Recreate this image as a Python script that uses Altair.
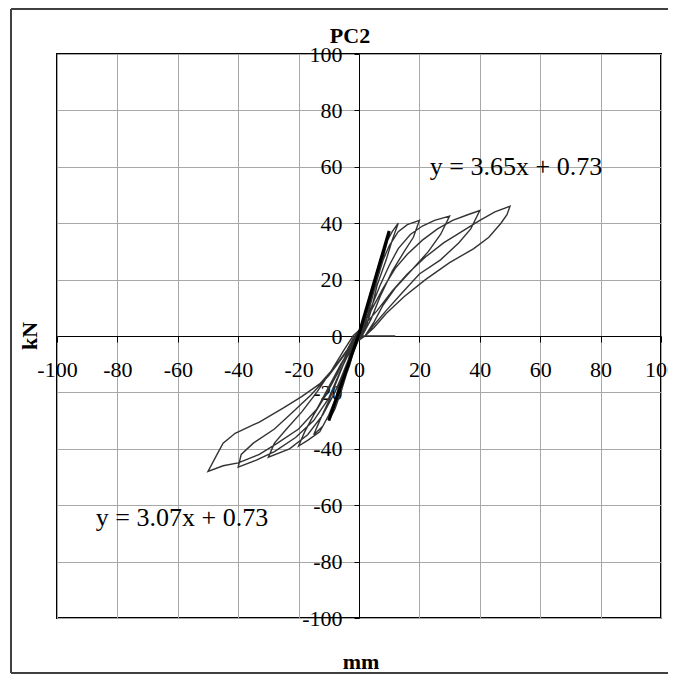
import altair as alt
import pandas as pd

# ---------------- data ----------------
tick_values = [-100, -80, -60, -40, -20, 0, 20, 40, 60, 80, 100]

loop5_x = [0, 1, 2, 3, 4, 5, 4, 3, 2, 0, -2, -3, -4, -5, -4, -3, -1, 1]
loop5_y = [0, 3, 8, 12, 16, 19, 14, 8, 3, -1, -6, -10, -13, -16, -11, -6, -1, 2]

loop10_x = [3, 5, 7, 9, 10, 8, 6, 4, 2, 0, -2, -4, -6, -8, -10, -8, -6, -3, -1, 1]
loop10_y = [10, 18, 26, 32, 36, 28, 20, 12, 4, 0, -6, -13, -20, -26, -30, -23, -15, -7, 0, 3]

loop15_x = [3, 5, 7, 9, 11, 13, 11, 9, 6, 4, 2, 0, -3, -6, -9, -12, -15, -13, -10, -7, -4, -1, 1]
loop15_y = [10, 19, 27, 33, 37, 40, 34, 27, 18, 9, 2, -1, -8, -18, -26, -32, -35, -30, -23, -15, -7, 0, 3]

loop20_x = [3, 6, 8, 10, 13, 16, 20, 18, 15, 11, 7, 4, 1, -1, -4, -7, -10, -13, -17, -20,
            -18, -15, -11, -7, -4, -1, 1]
loop20_y = [10, 20, 27, 32, 37, 39.5, 41, 35, 30, 23, 14, 6, 0, -2, -10, -20, -28, -34, -37, -39,
            -34, -28, -21, -13, -6, 0, 3]

loop30_x = [4, 7, 10, 13, 17, 21, 25, 30, 27, 23, 18, 12, 8, 5, 2, -1, -4, -8, -12, -17, -23, -30,
            -28, -24, -19, -14, -9, -5, -2, 1]
loop30_y = [10, 18, 25, 31, 36, 39, 41, 42.5, 36, 30, 24, 17, 11, 5, 0, -2, -10, -20, -28, -35, -40, -43,
            -38, -33, -27, -20, -12, -5, 0, 3]

loop40_x = [4, 8, 12, 16, 21, 26, 31, 36, 40, 37, 33, 27, 20, 14, 9, 5, 2,
            -2, -6, -10, -15, -21, -28, -34, -40, -39, -35, -28, -22, -16, -10, -5, -2, 1]
loop40_y = [9, 17, 24, 29, 34, 38, 41, 43, 44.5, 38, 33, 27, 22, 15, 9, 4, 0,
            -3, -12, -22, -30, -36, -41, -44, -46.5, -42, -38, -33, -27, -21, -14, -7, -1, 3]

loop50_x = [6, 11, 16, 22, 28, 34, 40, 45, 50, 49, 47, 43, 38, 30, 22, 15, 9, 5, 2,
            -2, -6, -10, -14, -20, -27, -33, -40, -45, -50,
            -47, -45, -41, -33, -25, -19, -13, -8, -4, -1, 4, 12]
loop50_y = [9, 16, 22, 28, 33, 37, 41, 44, 46, 43, 40, 35, 31, 26, 20, 14, 8, 3, 0,
            -3, -10, -18, -26, -33, -38, -42, -45, -46, -48,
            -42, -38, -34.5, -30.5, -25.5, -21.5, -17, -11, -5, 0, 0, 0]

# trend lines (y = 3.65x + 0.73 for x in [0, 10]; y = 3.07x + 0.73 for x in [-10, 0])
trend_pos_x = [0, 10]
trend_pos_y = [0.73, 37.23]
trend_neg_x = [-10, 0]
trend_neg_y = [-29.97, 0.73]

eq_pos = "y = 3.65x + 0.73"
eq_neg = "y = 3.07x + 0.73"

# ---------------- tables ----------------
xs = loop5_x + loop10_x + loop15_x + loop20_x + loop30_x + loop40_x + loop50_x
ys = loop5_y + loop10_y + loop15_y + loop20_y + loop30_y + loop40_y + loop50_y
loops = pd.DataFrame({"x": xs, "y": ys, "i": list(range(len(xs)))})

trend = pd.DataFrame({
    "x": trend_pos_x + trend_neg_x,
    "y": trend_pos_y + trend_neg_y,
    "g": ["pos", "pos", "neg", "neg"],
})

W, H = 604, 564
FONT = "Liberation Serif"

xscale = alt.Scale(domain=[-100, 100], nice=False, zero=False)
yscale = alt.Scale(domain=[-100, 100], nice=False, zero=False)

common_axis = dict(
    values=tick_values, grid=True, gridColor="#a8a8a8", gridWidth=1,
    domainColor="black", domainWidth=1, tickColor="black", tickWidth=1,
    labelFont=FONT, labelFontSize=22, labelColor="black", title=None,
    labelFlush=False, labelOverlap=False,
    labelExpr="'' + datum.value",
)
xaxis = alt.Axis(orient="bottom", offset=-H / 2, tickSize=6, labelPadding=17, **common_axis)
yaxis = alt.Axis(orient="left", offset=-W / 2, tickSize=5, labelPadding=12, **common_axis)

base = alt.Chart(loops).mark_line(color="#333333", strokeWidth=1.4).encode(
    x=alt.X("x:Q", scale=xscale, axis=xaxis),
    y=alt.Y("y:Q", scale=yscale, axis=yaxis),
    order="i:Q",
)

trend_lines = alt.Chart(trend).mark_line(color="black", strokeWidth=3.2).encode(
    x=alt.X("x:Q", scale=xscale),
    y=alt.Y("y:Q", scale=yscale),
    detail="g:N",
)

def txt(s, x, y, size, bold=False, angle=0):
    kw = dict(font=FONT, fontSize=size, color="black", align="center", baseline="middle")
    if bold:
        kw["fontWeight"] = "bold"
    if angle:
        kw["angle"] = angle
    return alt.Chart(pd.DataFrame({"t": [s]})).mark_text(**kw).encode(
        text="t:N", x=alt.value(x), y=alt.value(y)
    )

title = txt("PC2", 293, -18, 22, bold=True)
xtitle = txt("mm", 304, 608, 22, bold=True)
ytitle = txt("kN", -27, 282, 22, bold=True, angle=270)
eq1 = txt(eq_pos, 459, 113, 26)
eq2 = txt(eq_neg, 125, 464, 26)

# outer chart frame (left, top, bottom edges; right edge lies beyond the page)
frame_src = pd.DataFrame({"a": [0]})
frame_kw = dict(color="#404040", strokeWidth=2)
frame_left = alt.Chart(frame_src).mark_rule(**frame_kw).encode(
    x=alt.value(-46), y=alt.value(-45), y2=alt.value(619))
frame_top = alt.Chart(frame_src).mark_rule(**frame_kw).encode(
    x=alt.value(-46), x2=alt.value(640), y=alt.value(-45))
frame_bottom = alt.Chart(frame_src).mark_rule(**frame_kw).encode(
    x=alt.value(-46), x2=alt.value(640), y=alt.value(619))

chart = alt.layer(frame_left, frame_top, frame_bottom, base, trend_lines,
                  title, xtitle, ytitle, eq1, eq2).properties(
    width=W, height=H,
    padding={"left": 49, "top": 46, "right": 7, "bottom": 56},
    autosize=alt.AutoSizeParams(type="none"),
).configure_view(stroke="black", strokeWidth=2)

chart.save("out.html", embed_options={"renderer": "svg", "actions": False})
